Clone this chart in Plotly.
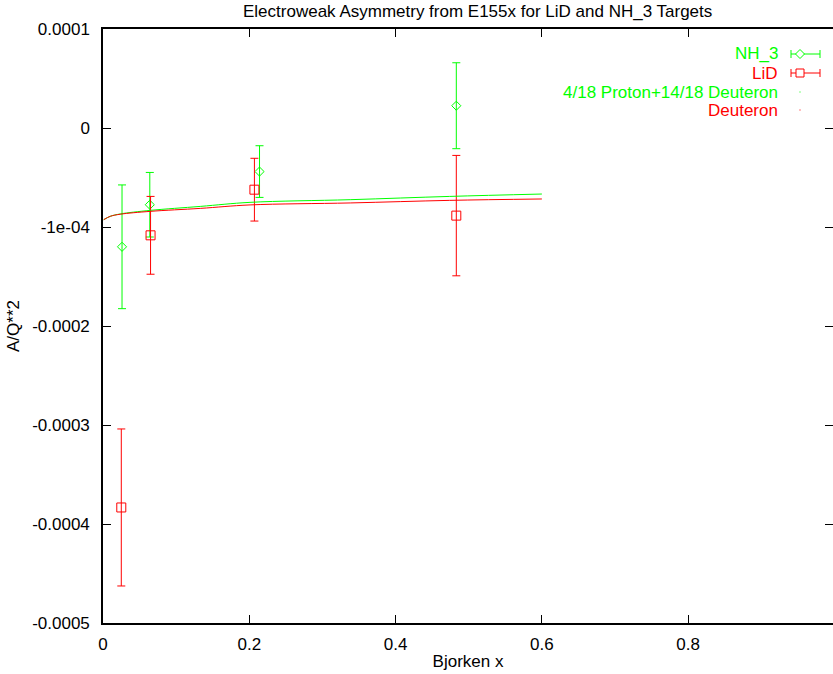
import plotly.graph_objects as go

# ---- data ----
nh3_x = [0.026, 0.064, 0.214, 0.483]
nh3_y = [-1.20e-4, -0.775e-4, -0.44e-4, 0.225e-4]
nh3_err = [0.625e-4, 0.326e-4, 0.261e-4, 0.434e-4]

lid_x = [0.025, 0.065, 0.207, 0.483]
lid_y = [-3.833e-4, -1.084e-4, -0.623e-4, -0.885e-4]
lid_err = [0.793e-4, 0.393e-4, 0.317e-4, 0.608e-4]

curve_x = [0.001, 0.010, 0.0236, 0.0647, 0.133, 0.201, 0.338, 0.474, 0.600]
mix_y = [-0.926e-4, -0.892e-4, -0.868e-4, -0.832e-4, -0.792e-4, -0.751e-4, -0.724e-4, -0.691e-4, -0.667e-4]
deut_y = [-0.926e-4, -0.892e-4, -0.871e-4, -0.842e-4, -0.812e-4, -0.777e-4, -0.757e-4, -0.731e-4, -0.717e-4]

x_ticks = [0, 0.2, 0.4, 0.6, 0.8]
x_ticktext = ["0", "0.2", "0.4", "0.6", "0.8"]
y_ticks = [1e-4, 0, -1e-4, -2e-4, -3e-4, -4e-4, -5e-4]
y_ticktext = ["0.0001", "0", "-1e-04", "-0.0002", "-0.0003", "-0.0004", "-0.0005"]

GREEN = "#00ff00"
RED = "#ff0000"
FONT = "Liberation Sans"
FS = 17

W, H = 833, 674
L, R, T, B = 103, 833, 29, 623


def px(x):
    return (x - L) / (R - L)


def py(y):
    return (B - y) / (B - T)


fig = go.Figure()

fig.add_trace(go.Scatter(
    x=nh3_x, y=nh3_y, mode="markers", name="NH_3",
    marker=dict(symbol="diamond-open", size=7, color=GREEN, line=dict(width=1, color=GREEN)),
    error_y=dict(type="data", array=nh3_err, visible=True, color=GREEN, thickness=1, width=4),
))
fig.add_trace(go.Scatter(
    x=lid_x, y=lid_y, mode="markers", name="LiD",
    marker=dict(symbol="square-open", size=9, color=RED, line=dict(width=1, color=RED)),
    error_y=dict(type="data", array=lid_err, visible=True, color=RED, thickness=1, width=4),
))
fig.add_trace(go.Scatter(
    x=curve_x, y=mix_y, mode="lines", name="4/18 Proton+14/18 Deuteron",
    line=dict(color=GREEN, width=1, shape="spline"),
))
fig.add_trace(go.Scatter(
    x=curve_x, y=deut_y, mode="lines", name="Deuteron",
    line=dict(color=RED, width=1, shape="spline"),
))

# ---- gnuplot-style legend (text right, sample to the right) ----
legend_rows = [("NH_3", GREEN, 54, "diamond"), ("LiD", RED, 73, "square"),
               ("4/18 Proton+14/18 Deuteron", GREEN, 92, "dot"), ("Deuteron", RED, 110, "dot")]
annotations = []
shapes = []
for text, col, yy, kind in legend_rows:
    annotations.append(dict(text=text, xref="paper", yref="paper", x=px(780), y=py(yy),
                            xanchor="right", yanchor="middle", showarrow=False,
                            font=dict(family=FONT, size=FS, color=col)))
    if kind in ("diamond", "square"):
        shapes.append(dict(type="line", xref="paper", yref="paper", x0=px(791), x1=px(820),
                           y0=py(yy), y1=py(yy), line=dict(color=col, width=1)))
        for cx in (791, 820):
            shapes.append(dict(type="line", xref="paper", yref="paper", x0=px(cx), x1=px(cx),
                               y0=py(yy - 4), y1=py(yy + 4), line=dict(color=col, width=1)))
        if kind == "diamond":
            path = "M {} {} L {} {} L {} {} L {} {} Z".format(
                px(800), py(yy - 4.5), px(804.5), py(yy), px(800), py(yy + 4.5), px(795.5), py(yy))
            shapes.append(dict(type="path", xref="paper", yref="paper", path=path,
                               line=dict(color=col, width=1), fillcolor="white"))
        else:
            shapes.append(dict(type="rect", xref="paper", yref="paper", x0=px(796), x1=px(804),
                               y0=py(yy - 4), y1=py(yy + 4), line=dict(color=col, width=1),
                               fillcolor="white"))
    else:
        shapes.append(dict(type="line", xref="paper", yref="paper", x0=px(799.5), x1=px(800.5),
                           y0=py(yy), y1=py(yy), line=dict(color=col, width=1)))

annotations.append(dict(text="Electroweak Asymmetry from E155x for LiD and NH_3 Targets",
                        xref="paper", yref="paper", x=px(477), y=py(11),
                        xanchor="center", yanchor="middle", showarrow=False,
                        font=dict(family=FONT, size=FS, color="black")))

fig.update_layout(
    width=W, height=H, autosize=False,
    margin=dict(l=L, r=W - R, t=T, b=H - B, pad=0, autoexpand=False),
    paper_bgcolor="white", plot_bgcolor="white",
    showlegend=False,
    font=dict(family=FONT, size=FS, color="black"),
    annotations=annotations, shapes=shapes,
    xaxis=dict(range=[0, 0.998], tickvals=x_ticks, ticktext=x_ticktext,
               ticks="inside", ticklen=8, tickcolor="black", tickwidth=1,
               showline=True, linecolor="black", linewidth=1.5, mirror="ticks",
               showgrid=False, zeroline=False, ticklabelstandoff=5, automargin=False,
               title=dict(text="Bjorken x", standoff=2, font=dict(family=FONT, size=FS))),
    yaxis=dict(range=[-5e-4, 1e-4], tickvals=y_ticks, ticktext=y_ticktext,
               ticks="inside", ticklen=8, tickcolor="black", tickwidth=1,
               showline=True, linecolor="black", linewidth=1.5, mirror="ticks",
               showgrid=False, zeroline=False, ticklabelstandoff=8, automargin=False,
               title=dict(text="A/Q**2", standoff=8, font=dict(family=FONT, size=FS))),
)

fig.write_html("out.html", config={"displayModeBar": False},
               post_script="document.body.style.margin='0px';document.body.style.overflow='hidden';")
